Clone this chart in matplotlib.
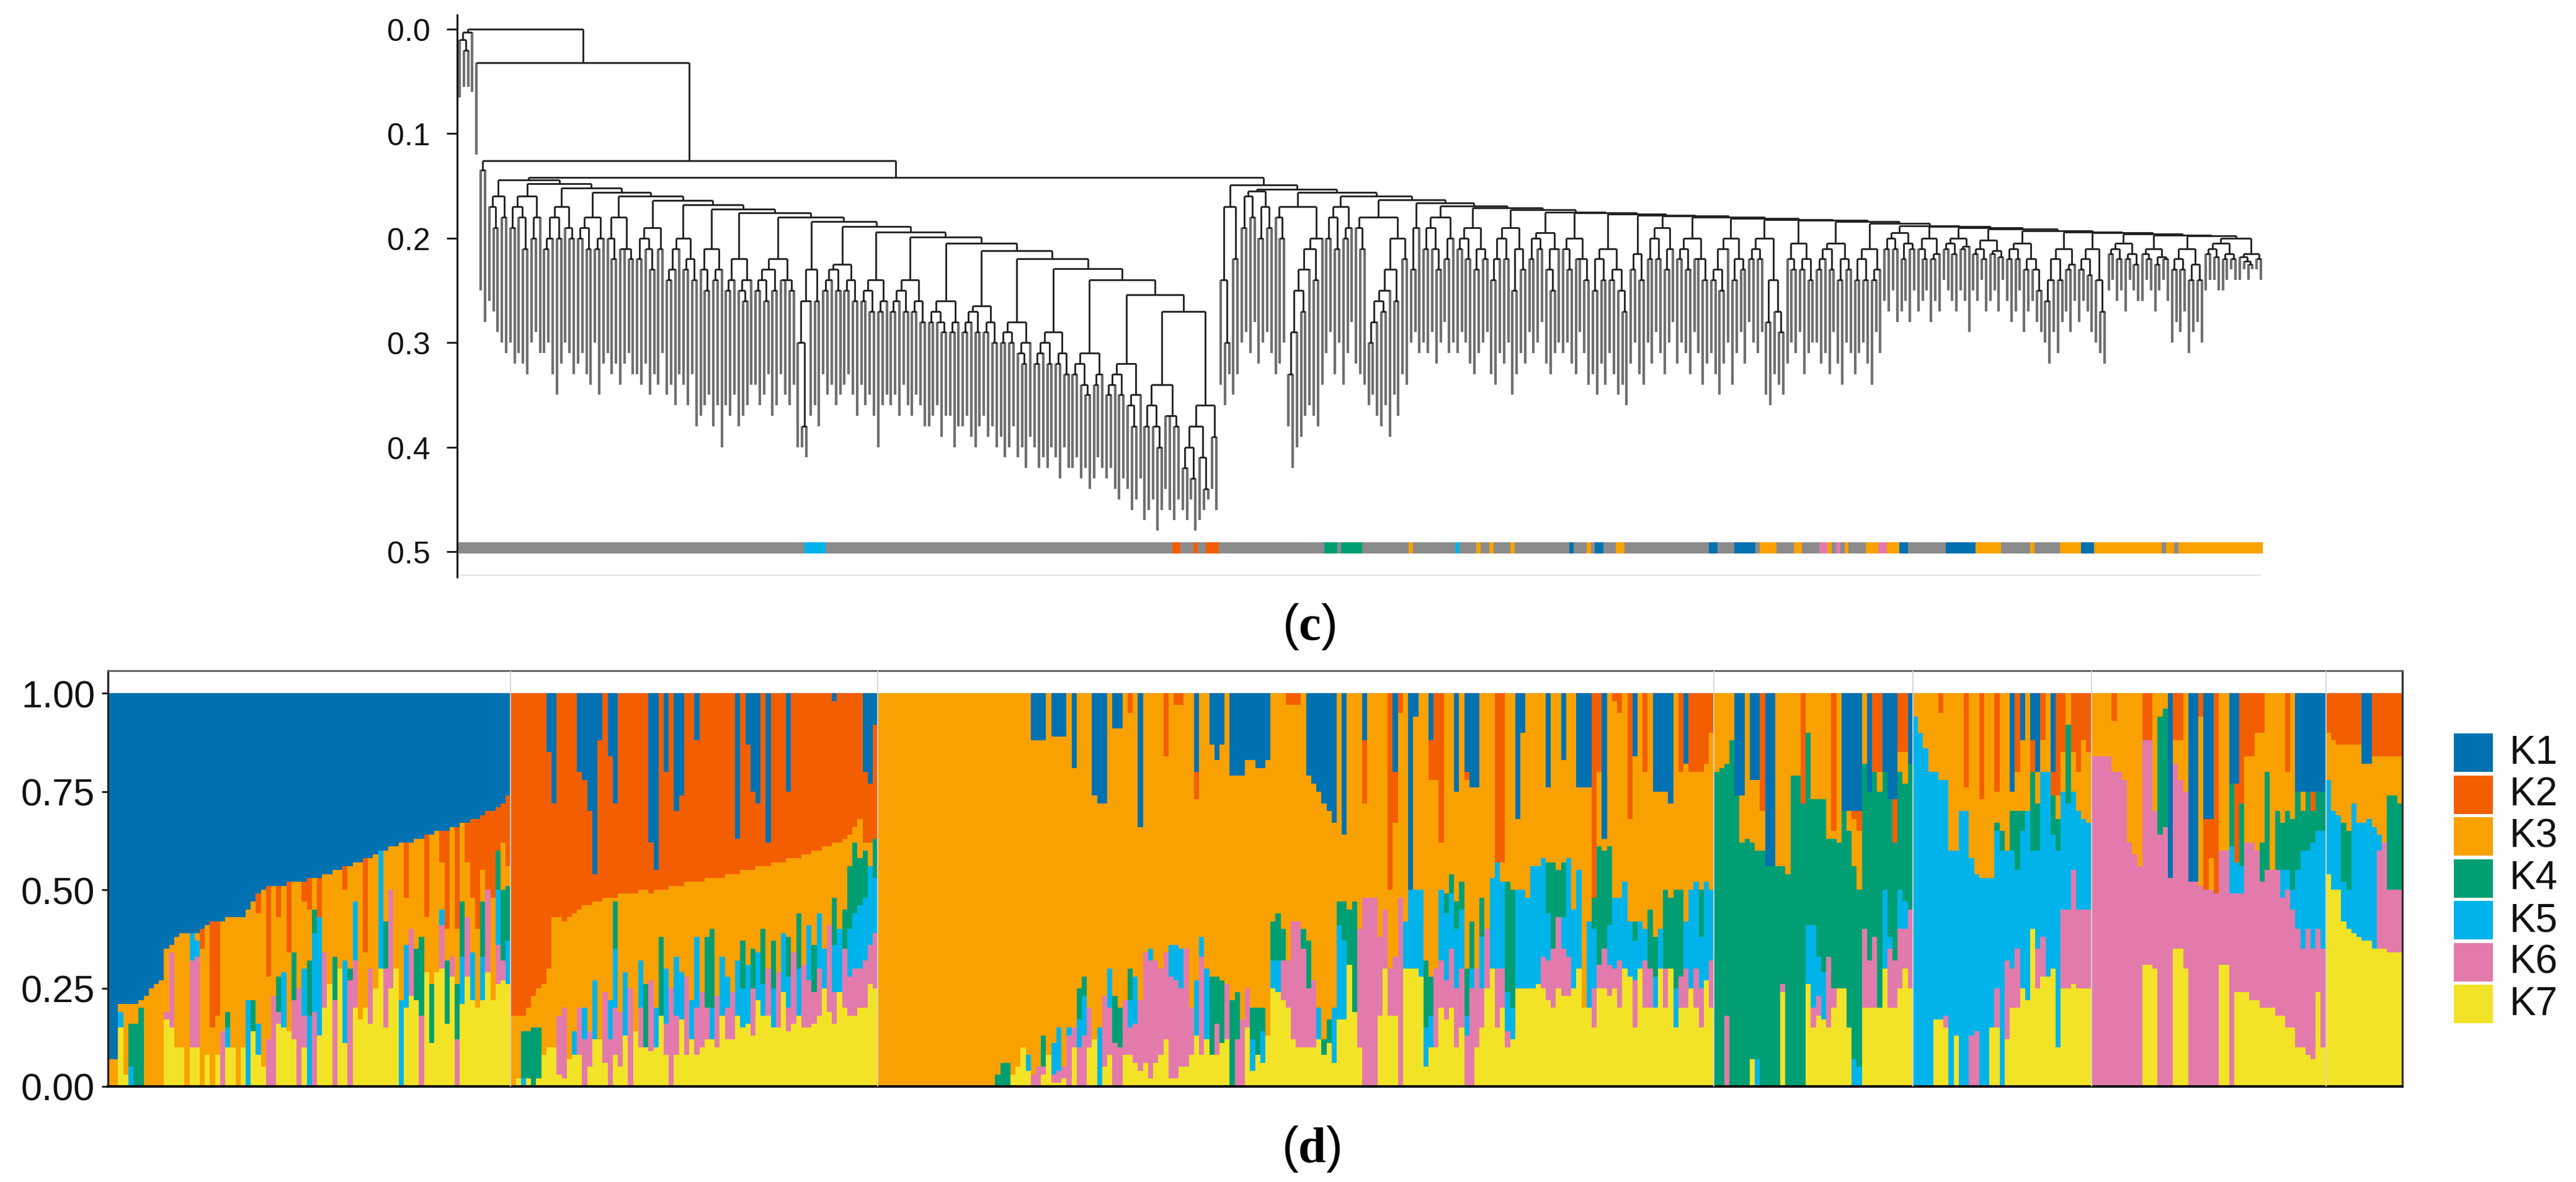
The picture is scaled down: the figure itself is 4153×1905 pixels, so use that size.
import re
import numpy as np
import matplotlib
matplotlib.use("Agg")
import matplotlib.pyplot as plt
from matplotlib.collections import LineCollection
from matplotlib.patches import Rectangle

plt.rcParams["font.family"] = ["Liberation Sans", "DejaVu Sans"]
plt.rcParams["mathtext.fontset"] = "custom"
plt.rcParams["mathtext.rm"] = "Liberation Serif"
plt.rcParams["mathtext.bf"] = "Liberation Serif:bold"

K_NAMES = ["K1", "K2", "K3", "K4", "K5", "K6", "K7"]
K_COLORS = ["#0071B1", "#F35F00", "#F9A100", "#009E73", "#00B3EA", "#E27BAB", "#F3E326"]
GRAY = "#8b8b8b"

# ---------------- (c) dendrogram ----------------
# clade strings: "(a b)h" = node at height h, bare numbers = leaf tip depth (x0.01)
stem_sides = ["((6.5 (5.5 5.5)2)1 6)0.3", "12", "(25 28)13.5"]
stem_joins = [0.0, 3.2, 12.6, 14.2]

left_clades = [
    "((26 (27 29)19)17 (30 31)18)16",
    "(((30 32)19 (31 (32 33)21)18)17 ((30 29)20 31)18)16",
    "((((31 30)21 33)20 (35 32)20)18 (30 (31 33)20)19)17",
    "(((32 31)20 (33 34)21)19 ((30 35)21 32)20)18",
    "((31 (33 32)22)20 ((34 32)21 (31 33)22)21)18",
    "(((33 34)22 (32 (35 33)23)21)20 (34 31)21)19",
    "((((35 34)24 36)23 33)21 ((34 36)23 (33 38)24)22)20",
    "((37 (36 35)25)23 ((38 36)24 40)23)21",
    "(((36 37)25 35)24 ((38 (37 36)26)25 34)24)22",
    "((((34 36)25 (35 33)26)24 (37 36)25)23 ((33 35)24 (36 34)25)24)22",
    "(((40 (40 41)38)30 37)26 (36 38)26)23",
    "((((33 35)25 34)24 (36 35)25)23 ((34 33)25 (35 37)26)24)22.5",
    "(((34 36)26 (35 37)27)25 ((40 36)27 35)26)24",
    "((((36 35)27 37)26 (34 36)27)25 ((37 35)27 (36 38)28)26)24",
    "(((38 37)28 (36 (39 37)29)28)27 ((37 40)29 38)28)26",
    "((((38 37)29 39)28 (40 38)29)27 ((37 39)29 (38 40)30)28)26.5",
    "(((39 41)30 (40 38)30)29 ((41 (40 42)32)31 39)30)28",
    "((((40 42)32 41)31 (42 40)32)30 ((41 43)32 (40 42)33)31)29",
    "(((42 41)33 (43 (42 44)35)34)32 ((43 41)34 42)33)31",
    "((((43 42)35 44)34 (45 43)35)33 ((44 (46 45)38)36 43)35)32",
    "(((47 46)38 (45 (48 46)40)38)36 ((44 46)37 (47 45)38)37)34",
    "((((46 47)42 (45 48)43)40 (47 (46 45)44)41)38 (44 46)39)36",
]
left_joins = [14.4, 14.8, 15.2, 15.6, 16.0, 16.4, 16.8, 17.2, 17.6, 18.0, 18.4,
              18.9, 19.4, 19.9, 20.5, 21.2, 22.0, 22.9, 24.0, 25.4, 27.0]

right_clades = [
    "((34 (36 33)30)24 (35 33)22)17",
    "(((30 29)19 (31 28)18)16 ((32 30)20 (29 31)19)17)15.5",
    "((33 (32 30)20)18 ((((((38 42)33 40)29 (39 37)27)25 36)23 (37 38)24)21 34)20)17",
    "(((31 29)20 (33 30)21)18 ((34 31)20 28)19)17",
    "((32 (33 34)21)19 ((((((36 35)30 37)28 (38 36)27)26 39)25 (35 37)26)23 (33 34)22)20)18",
    "((30 29)23 31)19",
    "(((30 31)21 (29 (32 30)23)21)19 ((28 31)22 30)20)18",
    "(((31 29)21 (30 32)22)20 ((33 31)23 (30 29)22)21)19",
    "((((33 34)24 31)22 (32 30)22)20 ((35 33)25 (31 32)23)21)19",
    "(((29 31)22 (30 28)21)20 ((32 (33 31)25)23 30)21)19.5",
    "((31 (30 32)23)21 ((33 29)22 (31 34)24)22)20",
    "(((33 35)25 (32 34)24)22 ((31 33)24 (35 (34 36)27)25)23)21",
    "((32 30)23 (33 34)24)21.5",
    "(((30 32)22 (29 31)22)20 ((33 30)23 28)21)19",
    "(((32 30)22 (31 33)23)21 ((29 31)22 (34 32)24)22)20",
    "((((31 33)24 (35 32)25)23 30)21 ((34 31)24 (29 32)23)22)20",
    "(((28 30)22 (31 29)22)21 ((35 36)28 (33 (34 35)29)27)24)20",
    "((32 (30 31)23)22 ((29 33)23 (31 30)24)22)20.5",
    "((((30 32)23 31)22 (33 29)23)21 ((32 34)24 (30 31)23)22)20.5",
    "(((33 31)24 (30 32)24)22 ((34 29)24 31)23)21",
    "(((26 27)21 (25 28)21)20 ((27 26)22 (28 25)21)20.5)19.5",
    "((27 (26 25)22)21 ((28 26)22 27)21.5)20",
    "(((24 25)21 (26 27)21.5)20.5 ((25 26)21 29)20.8)20",
    "(((25 26)21.5 (24 27)22)21 ((26 25)21.5 (27 24)21.8)21.2)20.2",
    "(((26 28)22 (27 25)22)21 ((29 27)23 (26 (28 29)25)23)22)20.5",
    "((((30 32)26 29)24 (31 28)24)22 ((27 29)23 26)22.5)21",
    "(((28 26)23 (27 29)23.5)22 (30 (31 32)27)24)21",
    "(((25 24)21.5 (26 25)22)21 ((27 24)22 (25 26)22.5)21.5)20.5",
    "((26 (24 25)22)21.5 ((27 25)22.5 (24 26)22)21.8)21",
    "(((30 28)23 (29 27)23)22 ((31 29)24 (28 30)24)22.5)21",
    "(((25 24)21.5 (24 25)21.8)21 ((25 24)22 (23 24)22)21.5)20.5",
    "((24 (23 (24 23)22.5)22.2)21.8 (23 24)22)21.5",
]
right_joins = [14.9, 15.3, 15.6, 16.0, 16.3, 16.6, 16.9, 17.1, 17.3, 17.5, 17.6,
               17.7, 17.8, 17.9, 18.0, 18.1, 18.2, 18.3, 18.4, 18.6, 18.8, 18.9,
               19.0, 19.1, 19.3, 19.4, 19.5, 19.6, 19.7, 19.8, 20.0]

# cluster strip under the tree: (first leaf, end leaf, cluster); others grey
tree_bar_runs = [
    (82, 87, "K5"), (169, 171, "K2"), (174, 175, "K2"), (177, 180, "K2"),
    (205, 208, "K4"), (209, 214, "K4"), (225, 226, "K3"), (236, 237, "K5"),
    (241, 242, "K3"), (244, 245, "K3"), (249, 250, "K3"), (263, 264, "K1"),
    (267, 268, "K3"), (269, 271, "K1"), (274, 276, "K3"), (296, 298, "K1"),
    (302, 307, "K1"), (308, 312, "K3"), (316, 318, "K3"), (322, 324, "K6"),
    (324, 325, "K3"), (326, 327, "K6"), (328, 329, "K3"), (333, 336, "K3"),
    (336, 338, "K6"), (338, 341, "K3"), (341, 343, "K1"), (352, 359, "K1"),
    (359, 365, "K3"), (372, 373, "K3"), (379, 384, "K3"), (384, 387, "K1"),
    (387, 403, "K3"), (404, 406, "K3"), (407, 427, "K3"),
]

# ---------------- (d) admixture proportions (K1..K7, %) ----------------
pop_k1 = [
    (93, 0, 7, 0, 0, 0, 0), (93, 0, 7, 0, 0, 0, 0), (79, 0, 2, 0, 4, 0, 15),
    (79, 0, 18, 0, 0, 0, 3), (79, 0, 5, 11, 5, 0, 0), (79, 0, 5, 16, 0, 0, 0),
    (78, 0, 2, 20, 0, 0, 0), (77, 0, 23, 0, 0, 0, 0), (75, 0, 25, 0, 0, 0, 0),
    (74, 0, 26, 0, 0, 0, 0), (73, 0, 27, 0, 0, 0, 0), (65, 0, 16, 0, 0, 2, 17),
    (64, 0, 2, 0, 0, 19, 15), (62, 0, 28, 0, 0, 0, 10), (61, 0, 29, 0, 0, 0, 10),
    (61, 0, 39, 0, 0, 0, 0), (61, 0, 0, 0, 7, 22, 10), (61, 0, 2, 0, 4, 23, 10),
    (60, 5, 35, 0, 0, 0, 0), (59, 0, 33, 0, 0, 0, 8), (58, 27, 15, 0, 0, 0, 0),
    (58, 24, 10, 0, 0, 0, 8), (58, 0, 28, 0, 0, 14, 0), (57, 0, 24, 4, 5, 0, 10),
    (57, 0, 33, 0, 0, 0, 10), (57, 0, 43, 0, 0, 0, 0), (57, 0, 33, 0, 0, 0, 10),
    (55, 0, 23, 0, 22, 0, 0), (53, 0, 25, 8, 0, 0, 14), (51, 5, 28, 0, 8, 0, 8),
    (50, 0, 45, 0, 0, 0, 5), (49, 23, 16, 0, 0, 12, 0), (49, 0, 28, 0, 0, 23, 0),
    (49, 8, 15, 9, 0, 3, 16), (49, 0, 22, 0, 14, 0, 15), (48, 18, 20, 0, 0, 0, 14),
    (48, 0, 18, 12, 0, 10, 12), (48, 0, 27, 0, 0, 25, 0), (48, 5, 17, 0, 12, 8, 10),
    (47, 8, 13, 14, 18, 0, 0), (47, 0, 8, 6, 20, 19, 0), (47, 10, 0, 0, 30, 0, 13),
    (46, 0, 20, 0, 0, 14, 20), (46, 0, 28, 0, 0, 0, 26), (45, 0, 22, 11, 0, 22, 0),
    (45, 0, 25, 0, 0, 0, 30), (44, 6, 18, 0, 21, 0, 11), (44, 0, 26, 3, 0, 27, 0),
    (43, 0, 10, 0, 15, 12, 20), (43, 0, 40, 0, 0, 0, 17), (42, 24, 14, 0, 0, 0, 20),
    (42, 0, 28, 0, 0, 14, 16), (41, 0, 34, 0, 0, 0, 25), (40, 0, 0, 0, 30, 0, 30),
    (40, 0, 18, 12, 0, 15, 15), (39, 0, 11, 0, 0, 25, 25), (39, 0, 31, 0, 0, 0, 30),
    (38, 0, 40, 0, 22, 0, 0), (38, 14, 12, 0, 16, 0, 20), (38, 0, 22, 0, 0, 17, 23),
    (37, 0, 28, 13, 0, 0, 22), (37, 0, 25, 20, 0, 18, 0), (36, 21, 14, 0, 0, 0, 29),
    (36, 0, 38, 15, 0, 0, 11), (35, 0, 36, 0, 0, 0, 29), (35, 8, 12, 0, 4, 11, 30),
    (35, 25, 8, 16, 0, 0, 16), (34, 0, 33, 0, 0, 5, 28), (34, 26, 14, 14, 0, 12, 0),
    (33, 0, 20, 14, 12, 0, 21), (33, 10, 14, 0, 0, 15, 28), (32, 20, 14, 0, 12, 0, 22),
    (32, 28, 20, 0, 0, 0, 20), (31, 14, 8, 14, 11, 0, 22), (30, 20, 0, 0, 0, 21, 29),
    (30, 22, 26, 0, 0, 0, 22), (29, 11, 0, 10, 14, 10, 26), (28, 10, 12, 18, 0, 5, 27),
    (26, 18, 5, 14, 11, 0, 26),
]
pop_k2 = [
    (0, 82, 18, 0, 0, 0, 0), (0, 82, 16, 0, 0, 0, 2), (0, 82, 4, 12, 2, 0, 0),
    (0, 80, 6, 12, 0, 0, 2), (0, 77, 8, 15, 0, 0, 0), (0, 75, 10, 13, 0, 0, 2),
    (0, 74, 18, 0, 0, 0, 8), (15, 55, 20, 0, 0, 0, 10), (28, 29, 33, 0, 0, 0, 10),
    (0, 57, 25, 0, 0, 15, 3), (0, 58, 22, 0, 0, 18, 2), (0, 57, 36, 0, 0, 0, 7),
    (0, 56, 30, 0, 6, 0, 8), (20, 35, 25, 0, 0, 12, 8), (22, 32, 26, 0, 8, 12, 0),
    (30, 24, 32, 0, 0, 9, 5), (46, 7, 20, 0, 15, 0, 12), (12, 41, 35, 0, 0, 0, 12),
    (0, 52, 24, 0, 0, 18, 6), (16, 36, 26, 0, 10, 12, 0), (28, 24, 1, 12, 15, 12, 8),
    (0, 51, 30, 0, 0, 14, 5), (0, 51, 20, 0, 16, 0, 13), (0, 51, 24, 0, 0, 25, 0),
    (0, 51, 35, 0, 0, 0, 14), (0, 50, 18, 0, 12, 10, 10), (0, 50, 24, 16, 0, 0, 10),
    (38, 13, 22, 0, 0, 18, 9), (45, 5, 30, 0, 10, 0, 10), (0, 50, 12, 20, 0, 0, 18),
    (20, 30, 20, 0, 14, 8, 8), (0, 49, 26, 0, 0, 25, 0), (30, 19, 18, 0, 15, 10, 8),
    (26, 23, 22, 0, 12, 0, 17), (0, 48, 24, 0, 0, 20, 8), (0, 48, 30, 0, 10, 0, 12),
    (12, 36, 14, 0, 18, 12, 8), (0, 48, 28, 0, 0, 14, 10), (0, 47, 15, 18, 0, 8, 12),
    (0, 47, 13, 20, 8, 0, 12), (0, 47, 30, 0, 0, 13, 10), (0, 47, 20, 0, 15, 0, 18),
    (0, 46, 26, 0, 8, 8, 12), (0, 46, 30, 0, 0, 12, 12), (37, 9, 22, 0, 14, 0, 18),
    (0, 45, 18, 12, 10, 0, 15), (13, 32, 24, 0, 15, 0, 16), (25, 20, 20, 10, 0, 12, 13),
    (28, 16, 22, 0, 12, 0, 22), (0, 44, 16, 14, 8, 0, 18), (38, 6, 26, 0, 0, 12, 18),
    (0, 43, 20, 12, 10, 0, 15), (0, 43, 28, 0, 0, 14, 15), (0, 43, 18, 0, 15, 0, 24),
    (25, 17, 20, 10, 8, 6, 14), (0, 42, 24, 0, 0, 18, 16), (0, 42, 14, 14, 12, 0, 18),
    (0, 41, 28, 0, 0, 16, 15), (0, 41, 18, 0, 14, 12, 15), (0, 40, 24, 12, 0, 8, 16),
    (0, 40, 16, 0, 14, 12, 18), (0, 39, 26, 0, 10, 0, 25), (0, 39, 20, 0, 0, 22, 19),
    (2, 36, 14, 12, 12, 8, 16), (0, 38, 22, 0, 16, 0, 24), (0, 37, 18, 10, 0, 15, 20),
    (0, 36, 8, 16, 12, 10, 18), (0, 34, 4, 18, 14, 12, 18), (0, 32, 10, 12, 16, 10, 20),
    (20, 18, 2, 12, 16, 12, 20), (23, 15, 6, 0, 20, 10, 26), (8, 29, 0, 10, 14, 14, 25),
]
pop_k3 = [(0, 0, 100, 0, 0, 0, 0)] * 23 + [
    (0, 0, 97, 3, 0, 0, 0), (0, 0, 94, 6, 0, 0, 0), (0, 0, 94, 6, 0, 0, 0),
    (0, 0, 97, 0, 0, 0, 3), (0, 0, 95, 0, 0, 0, 5), (0, 0, 90, 0, 0, 0, 10),
    (0, 0, 92, 0, 4, 0, 4), (12, 0, 85, 0, 0, 3, 0), (12, 0, 83, 0, 0, 5, 0),
    (12, 0, 75, 8, 0, 2, 3), (0, 0, 92, 0, 0, 0, 8), (11, 0, 78, 0, 8, 2, 1),
    (11, 0, 74, 0, 11, 3, 1), (11, 0, 84, 0, 0, 3, 2), (0, 0, 85, 0, 2, 13, 0),
    (19, 0, 66, 0, 0, 5, 10), (0, 0, 75, 8, 7, 10, 0), (0, 0, 72, 5, 10, 13, 0),
    (0, 0, 80, 0, 0, 10, 10), (26, 0, 62, 0, 0, 0, 12), (28, 0, 57, 0, 15, 0, 0),
    (28, 0, 49, 0, 0, 18, 5), (0, 0, 70, 0, 10, 12, 8), (9, 0, 68, 12, 0, 11, 0),
    (9, 0, 71, 10, 0, 10, 0), (0, 0, 78, 0, 0, 14, 8), (0, 5, 65, 8, 7, 7, 8),
    (0, 0, 72, 0, 12, 10, 6), (34, 0, 44, 0, 0, 18, 4), (0, 0, 66, 0, 0, 28, 6),
    (0, 0, 65, 0, 3, 30, 2), (0, 0, 68, 0, 0, 26, 6), (0, 0, 70, 0, 0, 22, 8),
    (0, 16, 50, 0, 0, 22, 12), (0, 0, 64, 0, 8, 26, 2), (0, 3, 61, 0, 9, 25, 2),
    (0, 3, 62, 0, 10, 20, 5), (0, 0, 65, 0, 0, 30, 5), (0, 0, 80, 0, 0, 12, 8),
    (20, 7, 46, 0, 14, 0, 13), (0, 0, 62, 0, 5, 25, 8), (0, 0, 70, 0, 18, 0, 12),
    (13, 0, 59, 20, 0, 0, 8), (17, 0, 55, 12, 0, 8, 8), (13, 0, 60, 16, 0, 0, 11),
    (0, 0, 74, 0, 0, 14, 12), (21, 0, 57, 22, 0, 0, 0), (21, 0, 55, 12, 0, 12, 0),
    (21, 0, 62, 0, 0, 17, 0), (17, 0, 58, 0, 0, 10, 15), (17, 0, 63, 8, 8, 0, 4),
    (19, 0, 61, 12, 0, 0, 8), (19, 0, 61, 6, 8, 0, 6), (17, 0, 70, 0, 0, 0, 13),
    (0, 0, 58, 10, 7, 0, 25), (0, 0, 56, 12, 8, 0, 24), (0, 0, 60, 8, 0, 10, 22),
    (0, 3, 65, 0, 0, 12, 20), (0, 3, 55, 0, 0, 30, 12), (0, 3, 55, 0, 0, 32, 10),
    (0, 0, 60, 5, 0, 25, 10), (21, 0, 42, 12, 0, 15, 10), (23, 0, 50, 0, 0, 17, 10),
    (25, 0, 55, 0, 8, 0, 12), (28, 0, 60, 4, 0, 0, 8), (30, 0, 53, 6, 0, 0, 11),
    (33, 0, 47, 0, 14, 0, 6), (0, 0, 53, 6, 24, 0, 17), (36, 0, 17, 10, 20, 0, 17),
    (0, 0, 55, 14, 0, 0, 31), (0, 0, 53, 28, 0, 0, 19), (0, 0, 60, 0, 0, 30, 10),
    (12, 16, 24, 0, 0, 48, 0), (0, 0, 52, 0, 0, 48, 0), (0, 0, 52, 0, 0, 48, 0),
    (0, 0, 62, 0, 0, 20, 18), (0, 0, 55, 0, 0, 15, 30), (0, 50, 20, 0, 0, 12, 18),
    (20, 13, 34, 0, 0, 15, 18), (0, 5, 47, 0, 0, 48, 0), (0, 0, 58, 0, 12, 0, 30),
    (50, 0, 0, 0, 20, 0, 30), (6, 0, 44, 0, 20, 0, 30), (0, 0, 50, 0, 22, 0, 28),
    (0, 0, 68, 17, 10, 0, 5), (12, 10, 50, 10, 8, 0, 10), (0, 22, 48, 0, 0, 20, 10),
    (0, 38, 12, 0, 18, 12, 20), (0, 0, 51, 5, 17, 10, 17), (0, 0, 46, 5, 14, 15, 20),
    (25, 0, 28, 7, 15, 15, 10), (0, 0, 48, 7, 15, 15, 15), (20, 2, 48, 12, 5, 13, 0),
    (24, 0, 34, 12, 5, 25, 0), (24, 0, 46, 0, 0, 20, 10), (0, 0, 52, 10, 13, 10, 15),
    (0, 0, 60, 0, 0, 15, 25), (0, 0, 47, 0, 23, 0, 30), (0, 43, 0, 0, 27, 15, 15),
    (0, 43, 5, 0, 22, 10, 20), (0, 0, 48, 28, 10, 4, 10), (0, 0, 50, 30, 8, 0, 12),
    (32, 0, 18, 0, 25, 0, 25), (10, 0, 40, 0, 25, 0, 25), (0, 0, 52, 0, 23, 0, 25),
    (0, 0, 44, 0, 31, 0, 25), (0, 0, 44, 0, 30, 0, 26), (0, 0, 42, 0, 25, 8, 25),
    (24, 0, 19, 13, 12, 10, 22), (0, 0, 43, 22, 0, 15, 20), (0, 0, 45, 12, 0, 18, 25),
    (17, 0, 26, 14, 8, 12, 23), (0, 0, 42, 0, 25, 10, 23), (0, 0, 55, 0, 20, 0, 25),
    (24, 0, 21, 0, 25, 0, 30), (24, 0, 56, 0, 0, 0, 20), (24, 0, 34, 0, 22, 0, 20),
    (0, 52, 0, 8, 15, 10, 15), (0, 20, 19, 30, 0, 6, 25), (37, 0, 3, 25, 0, 10, 25),
    (0, 0, 39, 20, 10, 8, 23), (0, 2, 50, 0, 18, 5, 25), (0, 5, 47, 0, 16, 12, 20),
    (0, 0, 48, 0, 22, 0, 30), (0, 32, 26, 0, 14, 0, 28), (16, 0, 42, 5, 10, 12, 15),
    (0, 0, 58, 0, 12, 0, 30), (0, 20, 40, 0, 8, 12, 20), (0, 0, 55, 15, 0, 10, 20),
    (25, 0, 37, 10, 8, 0, 20), (25, 0, 35, 0, 10, 0, 30), (25, 0, 25, 20, 0, 10, 20),
    (28, 0, 24, 18, 0, 0, 30), (0, 0, 50, 25, 10, 0, 15), (0, 20, 30, 22, 0, 8, 20),
    (18, 0, 40, 0, 12, 10, 20), (0, 20, 30, 0, 25, 0, 25), (0, 20, 28, 0, 22, 10, 20),
    (0, 20, 30, 12, 13, 10, 15), (0, 18, 30, 0, 25, 0, 27), (0, 10, 40, 0, 18, 12, 20),
]
pop_k4 = [
    (0, 0, 20, 80, 0, 0, 0), (0, 0, 19, 81, 0, 0, 0), (0, 0, 18, 64, 0, 18, 0),
    (0, 0, 12, 88, 0, 0, 0), (26, 0, 0, 74, 0, 0, 0), (26, 0, 12, 62, 0, 0, 0),
    (0, 0, 37, 63, 0, 0, 0), (22, 0, 16, 55, 0, 0, 7), (22, 0, 18, 53, 7, 0, 0),
    (0, 30, 10, 60, 0, 0, 0), (44, 0, 0, 56, 0, 0, 0), (44, 0, 0, 56, 0, 0, 0),
    (0, 0, 44, 56, 0, 0, 0), (0, 0, 44, 30, 0, 2, 24), (0, 0, 46, 54, 0, 0, 0),
    (0, 0, 21, 79, 0, 0, 0), (0, 0, 21, 79, 0, 0, 0), (0, 28, 0, 72, 0, 0, 0),
    (0, 0, 10, 49, 15, 0, 26), (0, 0, 27, 32, 21, 5, 15), (0, 0, 27, 40, 10, 5, 18),
    (0, 0, 27, 44, 12, 0, 17), (0, 0, 37, 30, 0, 18, 15), (0, 35, 2, 38, 0, 5, 20),
    (0, 0, 38, 37, 0, 0, 25), (30, 0, 0, 45, 0, 0, 25), (30, 0, 5, 50, 0, 0, 15),
    (30, 2, 12, 49, 7, 0, 0), (30, 5, 15, 45, 5, 0, 0), (0, 0, 18, 42, 0, 20, 20),
    (25, 0, 0, 43, 0, 12, 20), (0, 20, 0, 42, 0, 18, 20), (0, 20, 5, 55, 0, 0, 20),
    (20, 0, 0, 30, 20, 0, 30), (27, 0, 0, 35, 3, 15, 20), (27, 11, 0, 30, 0, 12, 20),
    (0, 15, 5, 30, 10, 15, 25), (0, 15, 8, 30, 7, 10, 30), (18, 0, 0, 37, 0, 20, 25),
]
pop_k5 = [
    (0, 0, 6, 0, 94, 0, 0), (0, 0, 10, 0, 90, 0, 0), (0, 0, 14, 0, 86, 0, 0),
    (0, 0, 20, 0, 80, 0, 0), (0, 0, 20, 0, 63, 0, 17), (0, 5, 17, 0, 61, 0, 17),
    (0, 0, 22, 0, 60, 3, 15), (0, 0, 40, 0, 60, 0, 0), (0, 0, 40, 0, 47, 0, 13),
    (0, 0, 30, 0, 70, 0, 0), (0, 24, 6, 0, 70, 0, 0), (0, 0, 42, 0, 45, 13, 0),
    (0, 0, 46, 0, 40, 14, 0), (0, 27, 20, 0, 53, 0, 0), (0, 0, 47, 0, 53, 0, 0),
    (0, 0, 47, 0, 38, 0, 15), (0, 25, 8, 2, 40, 10, 15), (0, 0, 35, 5, 60, 0, 0),
    (0, 0, 40, 0, 28, 20, 12), (25, 0, 5, 10, 30, 10, 20), (0, 20, 10, 15, 20, 15, 20),
    (12, 0, 18, 5, 40, 0, 25), (0, 0, 30, 0, 48, 0, 22), (12, 8, 0, 20, 20, 0, 40),
    (20, 0, 8, 12, 25, 10, 25), (0, 12, 8, 0, 42, 10, 28), (0, 0, 20, 0, 52, 0, 28),
    (20, 6, 0, 10, 34, 0, 30), (0, 26, 6, 8, 50, 0, 10), (0, 15, 10, 0, 30, 20, 25),
    (0, 0, 8, 20, 27, 20, 25), (0, 15, 10, 0, 20, 29, 26), (0, 20, 10, 0, 25, 20, 25),
    (0, 12, 20, 0, 23, 20, 25), (0, 15, 18, 0, 22, 20, 25),
]
pop_k6 = [
    (0, 0, 16, 0, 0, 84, 0), (0, 0, 16, 0, 0, 84, 0), (0, 0, 16, 0, 0, 84, 0),
    (0, 0, 16, 0, 0, 84, 0), (0, 7, 13, 0, 0, 80, 0), (0, 0, 20, 0, 0, 80, 0),
    (0, 0, 22, 0, 0, 78, 0), (0, 0, 38, 0, 0, 62, 0), (0, 0, 41, 0, 0, 59, 0),
    (0, 0, 44, 0, 0, 56, 0), (0, 12, 0, 0, 0, 57, 31), (0, 12, 0, 0, 0, 57, 31),
    (0, 0, 30, 0, 0, 40, 30), (0, 0, 6, 30, 0, 64, 0), (0, 0, 4, 30, 0, 66, 0),
    (47, 0, 0, 0, 0, 53, 0), (0, 12, 6, 0, 0, 47, 35), (0, 12, 10, 0, 0, 43, 35),
    (0, 0, 25, 0, 0, 45, 30), (48, 0, 0, 0, 0, 52, 0), (48, 0, 0, 0, 0, 52, 0),
    (0, 6, 43, 0, 0, 51, 0), (32, 18, 0, 0, 0, 50, 0), (32, 10, 8, 0, 0, 50, 0),
    (0, 51, 0, 0, 0, 49, 0), (0, 0, 40, 0, 0, 29, 31), (0, 0, 40, 0, 0, 29, 31),
    (23, 0, 0, 16, 12, 49, 0), (23, 20, 0, 0, 8, 25, 24), (0, 28, 0, 16, 7, 25, 24),
    (0, 16, 22, 0, 0, 38, 24), (0, 16, 22, 0, 0, 40, 22), (0, 10, 30, 0, 0, 38, 22),
    (0, 10, 28, 10, 0, 32, 20), (0, 0, 20, 25, 0, 35, 20), (0, 0, 45, 0, 0, 35, 20),
    (0, 0, 30, 15, 0, 37, 18), (0, 0, 33, 12, 7, 30, 18), (0, 20, 10, 15, 5, 35, 15),
    (0, 0, 32, 18, 5, 30, 15), (25, 0, 0, 20, 15, 30, 10), (25, 0, 5, 10, 25, 25, 10),
    (25, 0, 0, 15, 20, 32, 8), (25, 5, 0, 8, 27, 28, 7), (25, 0, 0, 10, 25, 16, 24),
    (25, 0, 0, 10, 30, 25, 10),
]
pop_k7 = [
    (0, 10, 12, 0, 24, 0, 54), (0, 12, 18, 0, 20, 0, 50), (0, 13, 18, 0, 19, 0, 50),
    (0, 13, 20, 15, 10, 0, 42), (0, 13, 22, 15, 10, 0, 40), (0, 13, 15, 0, 33, 0, 39),
    (0, 13, 20, 0, 29, 0, 38), (18, 0, 15, 0, 30, 0, 37), (18, 0, 14, 0, 31, 0, 37),
    (0, 16, 18, 0, 31, 0, 35), (0, 16, 20, 0, 4, 25, 35), (0, 16, 22, 0, 0, 27, 35),
    (0, 16, 10, 24, 0, 16, 34), (0, 16, 10, 24, 0, 16, 34), (0, 16, 12, 22, 0, 16, 34),
]
populations = [pop_k1, pop_k2, pop_k3, pop_k4, pop_k5, pop_k6, pop_k7]


def parse_clade(text):
    tokens = re.findall(r"\(|\)|[0-9.]+", text)
    pos = 0

    def read():
        nonlocal pos
        tok = tokens[pos]
        pos += 1
        if tok == "(":
            kids = []
            while tokens[pos] != ")":
                kids.append(read())
            pos += 1
            h = float(tokens[pos])
            pos += 1
            return {"h": h / 100, "kids": kids}
        return {"h": float(tok) / 100, "kids": None}

    return read()


def ladder(texts, joins):
    node = parse_clade(texts[-1])
    for text, h in zip(texts[-2::-1], joins[::-1]):
        node = {"h": h / 100, "kids": [parse_clade(text), node]}
    return node


def layout(node, counter, inner, stems):
    if node["kids"] is None:
        node["x"] = counter[0]
        counter[0] += 1
        return
    for kid in node["kids"]:
        layout(kid, counter, inner, stems)
    xs = [kid["x"] for kid in node["kids"]]
    node["x"] = (xs[0] + xs[-1]) / 2
    inner.append([(xs[0], node["h"]), (xs[-1], node["h"])])
    for kid in node["kids"]:
        seg = [(kid["x"], node["h"]), (kid["x"], kid["h"])]
        (stems if kid["kids"] is None else inner).append(seg)


tree = {"h": stem_joins[-1] / 100,
        "kids": [ladder(left_clades, left_joins), ladder(right_clades, right_joins)]}
for side, h in zip(stem_sides[::-1], stem_joins[-2::-1]):
    tree = {"h": h / 100, "kids": [parse_clade(side), tree]}

inner_segs, stem_segs = [], []
counter = [0]
layout(tree, counter, inner_segs, stem_segs)
n_leaves = counter[0]

W, H = 4153, 1906
fig = plt.figure(figsize=(W / 100, H / 100), dpi=100)

# ---- panel (c)
ax_c = fig.add_axes([737 / W, 1 - 931 / H, 2923 / W, 906 / H])
step = (3645 - 741) / (n_leaves - 1)
ax_c.set_xlim(-(741 - 737) / step, n_leaves - 1 + (3660 - 3645) / step)
ax_c.set_ylim(0.5244, -0.0137)
ax_c.add_collection(LineCollection(stem_segs, colors="#6f6f6f", linewidths=3.0,
                                   capstyle="butt"))
ax_c.add_collection(LineCollection(inner_segs, colors="#1e1e1e", linewidths=2.0,
                                   capstyle="butt"))

leaf_keys = ["grey"] * n_leaves
for start, end, key in tree_bar_runs:
    for i in range(start, min(end, n_leaves)):
        leaf_keys[i] = key
strip_colors = [GRAY if k == "grey" else K_COLORS[K_NAMES.index(k)] for k in leaf_keys]
ax_c.bar(np.arange(n_leaves), 0.011, bottom=0.491, width=1.0, color=strip_colors,
         linewidth=0, antialiased=False)
ax_c.hlines(0.5226, 0, n_leaves - 1, color="#e6e6e6", lw=1.5)

for side in ["top", "right", "bottom"]:
    ax_c.spines[side].set_visible(False)
ax_c.spines["left"].set_linewidth(2.2)
ax_c.spines["left"].set_color("#111111")
ax_c.set_xticks([])
ax_c.set_yticks([0, 0.1, 0.2, 0.3, 0.4, 0.5])
ax_c.set_yticklabels(["0.0", "0.1", "0.2", "0.3", "0.4", "0.5"])
ax_c.tick_params(axis="y", length=12, width=2.0, pad=19, labelsize=36,
                 colors="#111111")

# ---- panel (d)
ax_d = fig.add_axes([174 / W, 1 - 1752 / H, 3699 / W, 670 / H])
rows = np.array([r for pop in populations for r in pop], dtype=float)
rows = rows / rows.sum(axis=1, keepdims=True)
n_ind = len(rows)
xpos = np.arange(n_ind)
base = np.zeros(n_ind)
for k in range(6, -1, -1):
    ax_d.bar(xpos, rows[:, k], bottom=base, width=1.0, color=K_COLORS[k],
             linewidth=0, antialiased=False)
    base += rows[:, k]

bounds = np.cumsum([len(p) for p in populations])[:-1] - 0.5
for b in bounds:
    ax_d.axvline(b, color="#d4d4d4", lw=1.3, zorder=3)

ax_d.set_xlim(-0.5, n_ind - 0.5)
ax_d.set_ylim(0, 1.057)
ax_d.set_xticks([])
ax_d.set_yticks([0, 0.25, 0.5, 0.75, 1.0])
ax_d.set_yticklabels(["0.00", "0.25", "0.50", "0.75", "1.00"])
ax_d.tick_params(axis="y", length=7, width=2.0, pad=8, labelsize=44,
                 colors="#111111")
ax_d.spines["top"].set_color("#5a5a5a")
ax_d.spines["top"].set_linewidth(2.0)
ax_d.spines["right"].set_color("#333333")
ax_d.spines["right"].set_linewidth(2.4)
ax_d.spines["left"].set_color("#222222")
ax_d.spines["left"].set_linewidth(2.4)
ax_d.spines["bottom"].set_color("#111111")
ax_d.spines["bottom"].set_linewidth(3.0)

# legend swatches
for i, (name, col) in enumerate(zip(K_NAMES, K_COLORS)):
    top = 1183 + 67.5 * i
    fig.add_artist(Rectangle((3956 / W, 1 - (top + 62) / H), 63 / W, 62 / H,
                             transform=fig.transFigure, facecolor=col,
                             edgecolor="none"))
    fig.text(4046 / W, 1 - (top + 31) / H, name, fontsize=46, va="center",
             ha="left", color="#111111")

fig.text(2110 / W, 1 - 1010 / H, r"($\mathbf{c}$)", fontsize=58, ha="center",
         va="center")
fig.text(2114 / W, 1 - 1852 / H, r"($\mathbf{d}$)", fontsize=58, ha="center",
         va="center")

fig.savefig("out.png", dpi=100)
